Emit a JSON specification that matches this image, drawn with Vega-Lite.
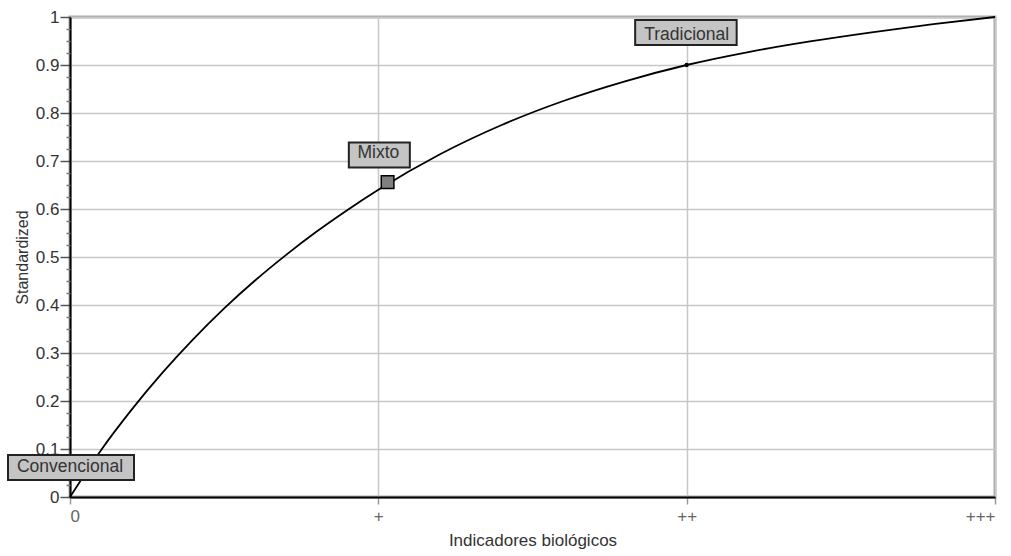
{
  "$schema": "https://vega.github.io/schema/vega-lite/v6.json",
  "width": 925,
  "height": 480,
  "autosize": {"type": "none"},
  "padding": {"left": 70, "top": 17, "right": 16, "bottom": 59},
  "background": "white",
  "config": {
    "view": {"stroke": "#aaaaaa", "strokeWidth": 3},
    "font": "Liberation Sans"
  },
  "datasets": {
    "curve": [
      {"x": 0, "y": 0},
      {"x": 0.1, "y": 0.097},
      {"x": 0.2, "y": 0.182},
      {"x": 0.3, "y": 0.259},
      {"x": 0.4, "y": 0.329},
      {"x": 0.5, "y": 0.393},
      {"x": 0.6, "y": 0.451},
      {"x": 0.7, "y": 0.504},
      {"x": 0.8, "y": 0.553},
      {"x": 0.9, "y": 0.598},
      {"x": 1.0, "y": 0.64},
      {"x": 1.2, "y": 0.714},
      {"x": 1.4, "y": 0.775},
      {"x": 1.6, "y": 0.825},
      {"x": 1.8, "y": 0.866},
      {"x": 2.0, "y": 0.9},
      {"x": 2.2, "y": 0.927},
      {"x": 2.4, "y": 0.949},
      {"x": 2.6, "y": 0.968},
      {"x": 2.8, "y": 0.985},
      {"x": 3.0, "y": 1.0}
    ],
    "labels": [
      {"label": "Convencional", "x": 0, "y": 0},
      {"label": "Mixto", "x": 1.0, "y": 0.655},
      {"label": "Tradicional", "x": 2.0, "y": 0.9}
    ],
    "markers": [
      {"kind": "square", "x": 1.03, "y": 0.656},
      {"kind": "dot", "x": 2.0, "y": 0.9}
    ]
  },
  "resolve": {
    "axis": {"y": "independent"},
    "scale": {"shape": "independent", "size": "independent", "fill": "independent"}
  },
  "layer": [
    {
      "data": {"name": "curve"},
      "mark": {"type": "line", "color": "black", "strokeWidth": 1.8, "interpolate": "monotone"},
      "encoding": {
        "x": {
          "field": "x", "type": "quantitative",
          "scale": {"domain": [0, 3], "nice": false, "zero": false},
          "axis": {
            "values": [0, 1, 2, 3],
            "labelExpr": "datum.value == 0 ? '0' : datum.value == 1 ? '+' : datum.value == 2 ? '++' : '+++'",
            "title": "Indicadores biológicos",
            "grid": true, "gridColor": "#c8c8c8", "gridWidth": 1.5,
            "domainColor": "black", "domainWidth": 2,
            "tickColor": "#999999", "tickSize": 7, "tickWidth": 1.5,
            "labelFontSize": 17, "labelColor": "#666666", "labelPadding": 4,
            "titleFontSize": 17, "titleFontWeight": "normal", "titleColor": "#333333", "titlePadding": 8
          }
        },
        "y": {
          "field": "y", "type": "quantitative",
          "scale": {"domain": [0, 1], "nice": false},
          "axis": {
            "values": [0, 0.1, 0.2, 0.3, 0.4, 0.5, 0.6, 0.7, 0.8, 0.9, 1],
            "format": "~g",
            "title": "Standardized",
            "grid": true, "gridColor": "#c8c8c8", "gridWidth": 1.5,
            "domainColor": "black", "domainWidth": 2,
            "tickColor": "#555555", "tickSize": 10, "tickWidth": 1.5,
            "labelFontSize": 17, "labelColor": "#333333", "labelPadding": 1,
            "titleFontSize": 16, "titleFontWeight": "normal", "titleColor": "#333333", "titlePadding": 5
          }
        }
      }
    },
    {
      "data": {"name": "labels"},
      "mark": {"type": "point", "filled": true, "fill": "#c4c4c4", "stroke": "#222222", "strokeWidth": 2, "opacity": 1, "size": 10000},
      "encoding": {
        "x": {"field": "x", "type": "quantitative"},
        "y": {
          "field": "y", "type": "quantitative",
          "axis": {
            "orient": "left",
            "values": [0.025, 0.05, 0.075, 0.125, 0.15, 0.175, 0.225, 0.25, 0.275, 0.325, 0.35, 0.375, 0.425, 0.45, 0.475, 0.525, 0.55, 0.575, 0.625, 0.65, 0.675, 0.725, 0.75, 0.775, 0.825, 0.85, 0.875, 0.925, 0.95, 0.975],
            "labels": false, "domain": false, "grid": false, "title": null,
            "tickSize": 4, "tickColor": "#777777", "tickWidth": 1.5
          }
        },
        "shape": {
          "field": "label", "type": "nominal", "legend": null,
          "scale": {
            "domain": ["Convencional", "Mixto", "Tradicional"],
            "range": [
              "M-1.24,-0.84H1.28V-0.34H-1.24Z",
              "M-0.59,-0.8H0.63V-0.3H-0.59Z",
              "M-1.03,-0.9H1.0V-0.4H-1.03Z"
            ]
          }
        }
      }
    },
    {
      "data": {"name": "markers"},
      "mark": {"type": "point", "filled": true, "stroke": "black", "strokeWidth": 1.5, "opacity": 1},
      "encoding": {
        "x": {"field": "x", "type": "quantitative"},
        "y": {"field": "y", "type": "quantitative", "axis": null},
        "shape": {"field": "kind", "type": "nominal", "legend": null, "scale": {"domain": ["square", "dot"], "range": ["square", "circle"]}},
        "size": {"field": "kind", "type": "nominal", "legend": null, "scale": {"domain": ["square", "dot"], "range": [160, 8]}},
        "fill": {"field": "kind", "type": "nominal", "legend": null, "scale": {"domain": ["square", "dot"], "range": ["#808080", "#000000"]}}
      }
    },
    {
      "data": {"name": "labels"},
      "mark": {"type": "text", "fontSize": 17.5, "color": "#333333", "dy": -30, "baseline": "middle", "align": "center"},
      "encoding": {
        "x": {"field": "x", "type": "quantitative"},
        "y": {"field": "y", "type": "quantitative", "axis": null},
        "text": {"field": "label", "type": "nominal"}
      }
    }
  ]
}
